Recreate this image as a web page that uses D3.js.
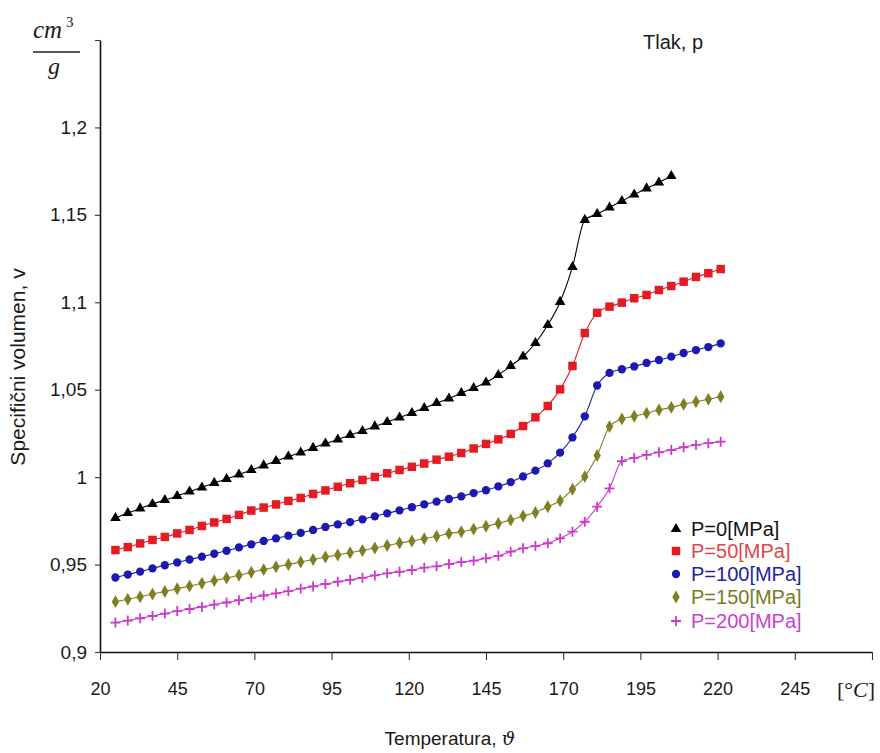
<!DOCTYPE html>
<html><head><meta charset="utf-8">
<script src="https://cdn.jsdelivr.net/npm/d3@7"></script>
<style>
body{margin:0;background:#fff}
svg{display:block}
text{font-family:"Liberation Sans",Arial,sans-serif;fill:#1a1a1a}
</style>
</head><body>
<svg id="c" width="880" height="753"></svg>
<script>
// ---- data ----
const temperatures = [25,29,33,37,41,45,49,53,57,61,65,69,73,77,81,85,89,93,97,101,105,109,113,117,121,125,129,133,137,141,145,149,153,157,161,165,169,173,177,181,185,189,193,197,201,205,209,213,217,221];

const v_P0 = [0.9766,0.9795,0.9821,0.9846,0.9869,0.9892,0.9918,0.9941,0.9967,0.9989,1.0015,1.0041,1.0067,1.0092,1.0118,1.0141,1.0167,1.0192,1.0215,1.0241,1.0264,1.0290,1.0315,1.0341,1.0367,1.0395,1.0424,1.0450,1.0481,1.0510,1.0541,1.0584,1.0636,1.0690,1.0767,1.0870,1.1002,1.1202,1.1471,1.1505,1.1542,1.1579,1.1616,1.1651,1.1685,1.1722];

const v_P50 = [0.9583,0.9600,0.9621,0.9641,0.9658,0.9678,0.9698,0.9721,0.9741,0.9761,0.9784,0.9809,0.9826,0.9844,0.9864,0.9881,0.9904,0.9924,0.9945,0.9965,0.9984,1.0001,1.0022,1.0041,1.0059,1.0078,1.0100,1.0117,1.0138,1.0164,1.0190,1.0216,1.0247,1.0292,1.0342,1.0407,1.0502,1.0636,1.0824,1.0940,1.0975,1.0998,1.1023,1.1042,1.1070,1.1093,1.1118,1.1145,1.1166,1.1190];

const v_P100 = [0.9426,0.9443,0.9460,0.9478,0.9496,0.9512,0.9529,0.9545,0.9562,0.9579,0.9598,0.9616,0.9635,0.9650,0.9665,0.9681,0.9698,0.9715,0.9730,0.9743,0.9759,0.9776,0.9793,0.9810,0.9828,0.9844,0.9860,0.9875,0.9890,0.9909,0.9925,0.9947,0.9972,1.0004,1.0037,1.0079,1.0140,1.0227,1.0348,1.0524,1.0596,1.0617,1.0633,1.0653,1.0670,1.0689,1.0710,1.0727,1.0744,1.0765];

const v_P150 = [0.9288,0.9302,0.9316,0.9331,0.9346,0.9362,0.9377,0.9393,0.9408,0.9423,0.9439,0.9456,0.9471,0.9487,0.9500,0.9515,0.9529,0.9543,0.9555,0.9568,0.9580,0.9595,0.9609,0.9623,0.9635,0.9648,0.9662,0.9677,0.9688,0.9703,0.9719,0.9735,0.9755,0.9778,0.9798,0.9831,0.9865,0.9931,1.0003,1.0124,1.0289,1.0333,1.0348,1.0365,1.0384,1.0399,1.0417,1.0431,1.0445,1.0460];

const v_P200 = [0.9168,0.9180,0.9193,0.9206,0.9220,0.9234,0.9246,0.9258,0.9271,0.9283,0.9296,0.9310,0.9323,0.9335,0.9348,0.9363,0.9375,0.9389,0.9402,0.9413,0.9424,0.9438,0.9450,0.9459,0.9469,0.9482,0.9490,0.9503,0.9514,0.9522,0.9536,0.9550,0.9574,0.9593,0.9606,0.9622,0.9650,0.9688,0.9745,0.9831,0.9936,1.0092,1.0110,1.0127,1.0142,1.0155,1.0171,1.0184,1.0194,1.0203];

const seriesNames = ["P=0[MPa]","P=50[MPa]","P=100[MPa]","P=150[MPa]","P=200[MPa]"];
const seriesValues = [v_P0, v_P50, v_P100, v_P150, v_P200];
const seriesColors = ["#000000","#e31b23","#1a1ab0","#7f7f22","#cc3acc"];
const legendTextColors = ["#111111","#e04848","#2222a8","#7a7a20","#cc40cc"];
const seriesSymbols = ["triangle","square","circle","diamond","plus"];

const xTicks = [20,45,70,95,120,145,170,195,220,245,270];
const xTickLabels = ["20","45","70","95","120","145","170","195","220","245",""];
const yTicks = [0.9,0.95,1,1.05,1.1,1.15,1.2,1.25];
const yTickLabels = ["0,9","0,95","1","1,05","1,1","1,15","1,2",""];

// ---- chart ----
const svg = d3.select("#c");
const x = d3.scaleLinear().domain([20,270]).range([100,872]);
const y = d3.scaleLinear().domain([0.9,1.25]).range([652,40]);

const gx = svg.append("g").attr("transform","translate(0,652)")
  .call(d3.axisBottom(x).tickValues(xTicks).tickFormat((d,i)=>xTickLabels[i]).tickSize(8).tickSizeOuter(0).tickPadding(22));
const gy = svg.append("g").attr("transform","translate(100,0)")
  .call(d3.axisLeft(y).tickValues(yTicks).tickFormat((d,i)=>yTickLabels[i]).tickSize(5).tickSizeOuter(0).tickPadding(8));
[gx,gy].forEach(g=>{
  g.selectAll("path.domain").attr("stroke","#111").attr("stroke-width",1.6);
  g.selectAll(".tick line").attr("stroke","#333").attr("stroke-width",1.1);
  g.selectAll(".tick text").attr("fill","#1a1a1a").style("font-family",'"Liberation Sans",Arial,sans-serif');
});
gx.selectAll(".tick text").style("font-size","18px");
gy.selectAll(".tick text").style("font-size","19px");

const symMap = {triangle:d3.symbolTriangle, square:d3.symbolSquare, circle:d3.symbolCircle, diamond:d3.symbolDiamond};
const symSize = {triangle:48, square:72, circle:54, diamond:48};

function drawMarker(g, type, color){
  if(type==="plus"){
    g.append("path").attr("d","M-5,0H5M0,-5V5").attr("stroke",color).attr("stroke-width",1.8).attr("fill","none");
  } else {
    g.append("path").attr("d",d3.symbol().type(symMap[type]).size(symSize[type])()).attr("fill",color);
  }
}

const line = d3.line().x(d=>x(d[0])).y(d=>y(d[1])).curve(d3.curveMonotoneX);

seriesValues.forEach((vals,si)=>{
  const pts = vals.map((v,i)=>[temperatures[i], v]);
  const g = svg.append("g");
  g.append("path").datum(pts).attr("d",line).attr("fill","none")
    .attr("stroke",seriesColors[si]).attr("stroke-width",1.1);
  pts.forEach(p=>{
    const m = g.append("g").attr("transform",`translate(${x(p[0])},${y(p[1])})`);
    drawMarker(m, seriesSymbols[si], seriesColors[si]);
  });
});

// legend
const legendRows = [529,551,574,597,621];
seriesNames.forEach((name,i)=>{
  const m = svg.append("g").attr("transform",`translate(676,${legendRows[i]})`);
  drawMarker(m, seriesSymbols[i], seriesColors[i]);
  svg.append("text").attr("x",691).attr("y",legendRows[i]+7)
    .style("font-size","20px").style("fill",legendTextColors[i]).text(name);
});

// labels
svg.append("text").attr("x",643).attr("y",49).style("font-size","20px").text("Tlak, p");

svg.append("text").attr("transform","translate(25,367) rotate(-90)").attr("text-anchor","middle")
  .style("font-size","21px").text("Specifični volumen, v");

const xt = svg.append("text").attr("x",450).attr("y",745).attr("text-anchor","middle").style("font-size","19px");
xt.append("tspan").text("Temperatura,  ");
xt.append("tspan").style("font-family",'"DejaVu Serif","Liberation Serif",serif').style("font-style","italic").style("font-size","19px").text("ϑ");

const cu = svg.append("text").attr("x",856).attr("y",697).attr("text-anchor","middle")
  .style("font-family",'"Liberation Serif",serif').style("font-size","22px");
cu.append("tspan").text("[°");
cu.append("tspan").style("font-style","italic").text("C");
cu.append("tspan").text("]");

// unit fraction cm^3 / g
const serif = '"Liberation Serif","DejaVu Serif",serif';
svg.append("text").attr("x",33).attr("y",38).style("font-family",serif).style("font-style","italic").style("font-size","25px").text("cm");
svg.append("text").attr("x",66).attr("y",27).style("font-family",serif).style("font-size","15px").text("3");
svg.append("line").attr("x1",33).attr("x2",80).attr("y1",52).attr("y2",52).attr("stroke","#222").attr("stroke-width",1.3);
svg.append("text").attr("x",54).attr("y",74).attr("text-anchor","middle").style("font-family",serif).style("font-style","italic").style("font-size","24px").text("g");
</script>
</body></html>
